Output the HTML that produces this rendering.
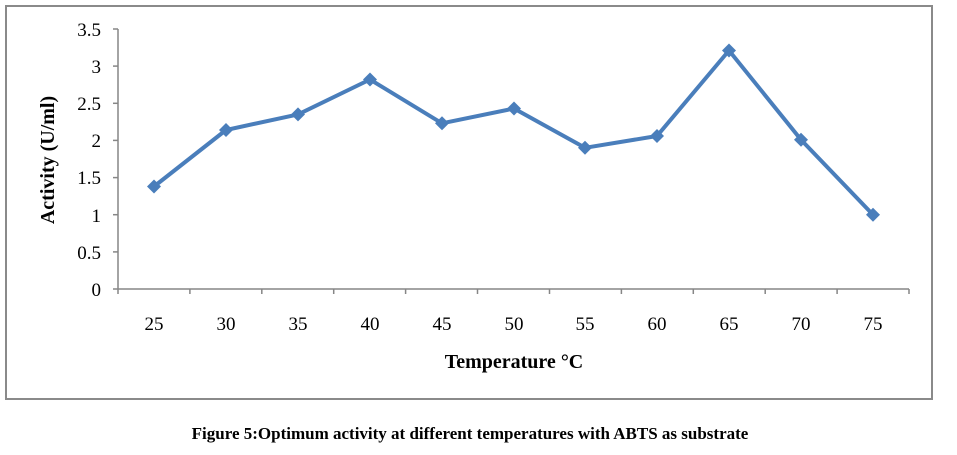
<!DOCTYPE html>
<html><head><style>body{margin:0;background:#fff}</style></head><body>
<svg width="957" height="450" xmlns="http://www.w3.org/2000/svg" font-family="Liberation Serif, serif">
<rect x="6" y="6" width="926" height="393" fill="#fff" stroke="#8a8a8a" stroke-width="2"/>
<g stroke="#868686" stroke-width="1.5" fill="none">
<line x1="118" y1="29" x2="118" y2="289"/>
<line x1="118" y1="289" x2="909" y2="289"/>
<line x1="113" y1="29" x2="118" y2="29"/><line x1="113" y1="66.1" x2="118" y2="66.1"/><line x1="113" y1="103.3" x2="118" y2="103.3"/><line x1="113" y1="140.4" x2="118" y2="140.4"/><line x1="113" y1="177.6" x2="118" y2="177.6"/><line x1="113" y1="214.7" x2="118" y2="214.7"/><line x1="113" y1="251.9" x2="118" y2="251.9"/><line x1="113" y1="289" x2="118" y2="289"/>
<line x1="118" y1="289" x2="118" y2="294"/><line x1="189.9" y1="289" x2="189.9" y2="294"/><line x1="261.8" y1="289" x2="261.8" y2="294"/><line x1="333.7" y1="289" x2="333.7" y2="294"/><line x1="405.6" y1="289" x2="405.6" y2="294"/><line x1="477.5" y1="289" x2="477.5" y2="294"/><line x1="549.5" y1="289" x2="549.5" y2="294"/><line x1="621.4" y1="289" x2="621.4" y2="294"/><line x1="693.3" y1="289" x2="693.3" y2="294"/><line x1="765.2" y1="289" x2="765.2" y2="294"/><line x1="837.1" y1="289" x2="837.1" y2="294"/><line x1="909" y1="289" x2="909" y2="294"/>
</g>
<g font-size="19" text-anchor="end" fill="#000">
<text x="101" y="36">3.5</text><text x="101" y="73">3</text><text x="101" y="110">2.5</text><text x="101" y="147">2</text><text x="101" y="184">1.5</text><text x="101" y="222">1</text><text x="101" y="259">0.5</text><text x="101" y="296">0</text>
</g>
<g font-size="19" text-anchor="middle" fill="#000">
<text x="154" y="330">25</text><text x="226" y="330">30</text><text x="298" y="330">35</text><text x="370" y="330">40</text><text x="442" y="330">45</text><text x="514" y="330">50</text><text x="585" y="330">55</text><text x="657" y="330">60</text><text x="729" y="330">65</text><text x="801" y="330">70</text><text x="873" y="330">75</text>
</g>
<text x="514" y="368" font-size="20" font-weight="bold" text-anchor="middle">Temperature °C</text>
<text transform="translate(54,160) rotate(-90)" font-size="20" font-weight="bold" text-anchor="middle">Activity (U/ml)</text>
<polyline fill="none" stroke="#4a7ebb" stroke-width="4" stroke-linejoin="round" points="154,186.5 226,130 298,114.4 370,79.5 442,123.3 514,108.5 585,147.8 657,136 729,50.5 801,139.7 873,214.7"/>
<g fill="#4a7ebb">
<path d="M154,179.5l7,7l-7,7l-7,-7z"/><path d="M226,123l7,7l-7,7l-7,-7z"/><path d="M298,107.4l7,7l-7,7l-7,-7z"/><path d="M370,72.5l7,7l-7,7l-7,-7z"/><path d="M442,116.3l7,7l-7,7l-7,-7z"/><path d="M514,101.5l7,7l-7,7l-7,-7z"/><path d="M585,140.8l7,7l-7,7l-7,-7z"/><path d="M657,129l7,7l-7,7l-7,-7z"/><path d="M729,43.5l7,7l-7,7l-7,-7z"/><path d="M801,132.7l7,7l-7,7l-7,-7z"/><path d="M873,207.7l7,7l-7,7l-7,-7z"/>
</g>
<text x="470" y="439" font-size="17" font-weight="bold" text-anchor="middle">Figure 5:Optimum activity at different temperatures with ABTS as substrate</text>
</svg>
</body></html>
